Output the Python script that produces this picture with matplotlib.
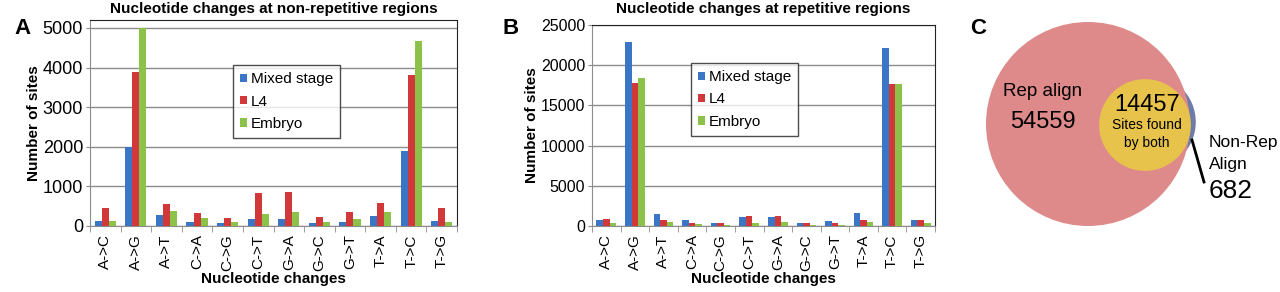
import numpy as np
import matplotlib
matplotlib.use("Agg")
import matplotlib.pyplot as plt
from matplotlib.patches import Circle

plt.rcParams['font.family'] = ['Liberation Sans', 'DejaVu Sans']

changes = ['A->C', 'A->G', 'A->T', 'C->A', 'C->G', 'C->T',
           'G->A', 'G->C', 'G->T', 'T->A', 'T->C', 'T->G']
stages = ['Mixed stage', 'L4', 'Embryo']
colors = ['#3B76C6', '#D0383A', '#8DC24A']

# non-repetitive regions
nonrep_mixed = [120, 2000, 275, 100, 80, 175, 175, 70, 105, 245, 1900, 130]
nonrep_l4 = [460, 3880, 565, 320, 210, 845, 860, 225, 350, 580, 3800, 455]
nonrep_embryo = [125, 5000, 380, 200, 90, 315, 350, 95, 165, 350, 4680, 110]

# repetitive regions
rep_mixed = [770, 22900, 1450, 730, 385, 1110, 1150, 385, 640, 1600, 22200, 790]
rep_l4 = [810, 17800, 730, 385, 340, 1200, 1200, 340, 385, 750, 17600, 800]
rep_embryo = [385, 18400, 510, 215, 170, 385, 470, 170, 170, 540, 17700, 420]

# venn counts
rep_only = 54559
both = 14457
nonrep_only = 682

W, H = 1280, 292
fig = plt.figure(figsize=(W / 100, H / 100), dpi=100)


def bar_panel(rect, series, ymax, yticks, title, legend_anchor, ytick_size, title_pad):
    ax = fig.add_axes([rect[0] / W, 1 - rect[3] / H,
                       (rect[2] - rect[0]) / W, (rect[3] - rect[1]) / H])
    x = np.arange(len(changes))
    bw = 0.23
    for i, (vals, c, lab) in enumerate(zip(series, colors, stages)):
        ax.bar(x + (i - 1) * bw, vals, bw, color=c, label=lab, zorder=3)
    ax.set_xlim(-0.5, len(changes) - 0.5)
    ax.set_ylim(0, ymax)
    ax.set_yticks(yticks)
    ax.set_yticklabels([str(t) for t in yticks], fontsize=ytick_size)
    ax.yaxis.grid(True, color='#8c8c8c', lw=1, zorder=0)
    ax.set_xticks(x)
    ax.set_xticklabels(changes, rotation=90, fontsize=11)
    ax.set_xticks(np.arange(len(changes) + 1) - 0.5, minor=True)
    ax.tick_params(axis='x', which='major', length=0, pad=6)
    ax.tick_params(axis='x', which='minor', length=4, color='#8c8c8c')
    ax.tick_params(axis='y', length=3, color='#8c8c8c', pad=2)
    for s in ['top', 'right']:
        ax.spines[s].set_color('#222222')
    for s in ['left', 'bottom']:
        ax.spines[s].set_color('#8c8c8c')
    ax.set_xlabel('Nucleotide changes', fontsize=11, fontweight='bold', labelpad=1)
    ax.set_ylabel('Number of sites', fontsize=11, fontweight='bold', labelpad=1)
    ax.set_title(title, fontsize=11, fontweight='bold', pad=title_pad)
    leg = ax.legend(loc='upper left', bbox_to_anchor=legend_anchor, fontsize=11,
                    frameon=True, fancybox=False, edgecolor='#222222',
                    handlelength=0.45, handleheight=0.45, handletextpad=0.25,
                    labelspacing=0.55, borderpad=0.45, borderaxespad=0)
    leg.get_frame().set_linewidth(1.0)
    return ax


bar_panel((90, 20, 457, 226), [nonrep_mixed, nonrep_l4, nonrep_embryo], 5200,
          [0, 1000, 2000, 3000, 4000, 5000],
          'Nucleotide changes at non-repetitive regions', (0.39, 0.78), 13, 5)
bar_panel((592, 25, 935, 226), [rep_mixed, rep_l4, rep_embryo], 25000,
          [0, 5000, 10000, 15000, 20000, 25000],
          'Nucleotide changes at repetitive regions', (0.29, 0.81), 11.5, 9)

fig.text(14 / W, 1 - 28 / H, 'A', fontsize=16, fontweight='bold', va='center')
fig.text(503 / W, 1 - 28 / H, 'B', fontsize=16, fontweight='bold', va='center')
fig.text(970 / W, 1 - 28 / H, 'C', fontsize=16, fontweight='bold', va='center')

# venn panel in pixel coordinates
x0 = 950
axc = fig.add_axes([x0 / W, 0, (W - x0) / W, 1])
axc.set_xlim(x0, W)
axc.set_ylim(H, 0)
axc.axis('off')

k = 102 / np.sqrt(rep_only + both)
r_rep = k * np.sqrt(rep_only + both)
r_non = k * np.sqrt(both + nonrep_only)
axc.add_patch(Circle((1148, 122), r_non, color='#6F7DA6', lw=0, zorder=1))
axc.add_patch(Circle((1088, 124), r_rep, color='#DE8A8A', lw=0, zorder=2))
axc.add_patch(Circle((1145, 125), r_non * 0.96, color='#E8C34B', lw=0, zorder=3))

axc.text(1043, 92, 'Rep align', fontsize=13.5, ha='center', va='center', zorder=5)
axc.text(1043, 122, str(rep_only), fontsize=17, ha='center', va='center', zorder=5)
axc.text(1147, 105, str(both), fontsize=17, ha='center', va='center', zorder=5)
axc.text(1147, 125, 'Sites found', fontsize=10, ha='center', va='center', zorder=5)
axc.text(1147, 143, 'by both', fontsize=10, ha='center', va='center', zorder=5)
axc.text(1209, 143, 'Non-Rep', fontsize=12.5, ha='left', va='center', zorder=5)
axc.text(1209, 164, 'Align', fontsize=12.5, ha='left', va='center', zorder=5)
axc.text(1209, 191, str(nonrep_only), fontsize=19, ha='left', va='center', zorder=5)
axc.plot([1192, 1204], [140, 182], color='black', lw=2, zorder=6)

fig.savefig('out.png', dpi=100)
